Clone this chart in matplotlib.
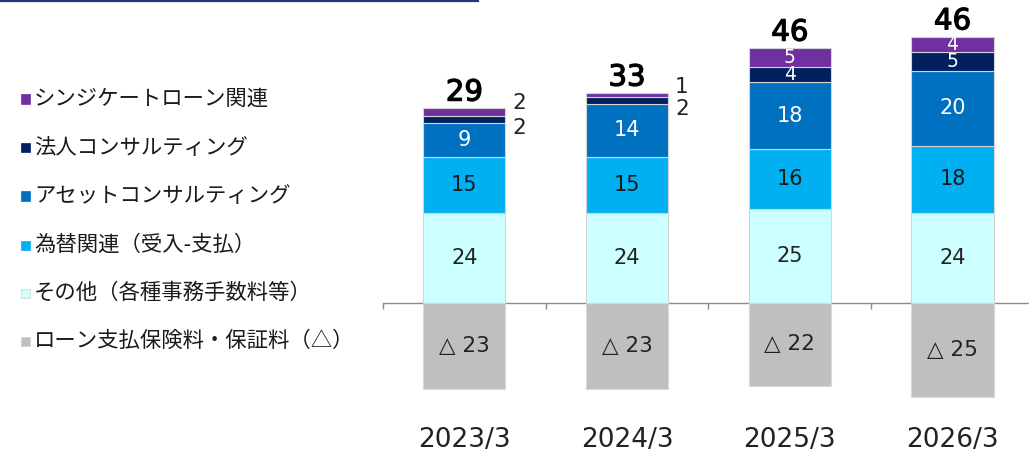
import matplotlib
matplotlib.use("Agg")
import matplotlib.pyplot as plt
from matplotlib.patches import Rectangle
from matplotlib.lines import Line2D
import matplotlib.patheffects as pe
import numpy as np

plt.rcParams['font.family'] = ['DejaVu Sans', 'Noto Sans CJK JP']

# ---- data ----
categories = ['2023/3', '2024/3', '2025/3', '2026/3']
other = [24, 24, 25, 24]          # その他（各種事務手数料等）
fx = [15, 15, 16, 18]             # 為替関連（受入-支払）
asset = [9, 14, 18, 20]           # アセットコンサルティング
corp = [2, 2, 4, 5]               # 法人コンサルティング
synd = [2, 1, 5, 4]               # シンジケートローン関連
loan = [-23, -23, -22, -25]       # ローン支払保険料・保証料（△）

series_names = ['その他（各種事務手数料等）', '為替関連（受入-支払）', 'アセットコンサルティング',
                '法人コンサルティング', 'シンジケートローン関連']
series_vals = [other, fx, asset, corp, synd]
series_colors = ['#CCFFFF', '#00B0F0', '#0070C0', '#002060', '#7030A0']
series_text = ['#222222', '#1a1a1a', 'white', 'white', 'white']
loan_name = 'ローン支払保険料・保証料（△）'
loan_color = '#BFBFBF'

W, H = 1029, 455
fig = plt.figure(figsize=(W / 100, H / 100), dpi=100)

def fx_(px):
    return px / W

def fy_(py):
    return 1 - py / H

# axes: zero line at pixel y=303, 3.75 px per unit
zero_px = 303
ppu = 3.75
ax = fig.add_axes([fx_(383), 0, (W - 383) / W, 1])
ax.set_xlim(-0.5, 3.47)
ax.set_ylim(-(H - zero_px) / ppu, zero_px / ppu)

x = np.arange(len(categories))
bw = 0.505
edge = '#D4D4D4'

bottom = np.zeros(len(categories))
for vals, col, tcol in zip(series_vals, series_colors, series_text):
    v = np.array(vals, dtype=float)
    ax.bar(x, v, bw, bottom=bottom, color=col, edgecolor=edge, linewidth=0.8, zorder=3)
    for i in range(len(x)):
        if v[i] >= 3:
            ax.text(x[i], bottom[i] + v[i] / 2, f'{int(v[i])}', ha='center', va='center',
                    fontsize=15 if v[i] >= 6 else 13.5, color=tcol, zorder=4)
    bottom += v

# outside labels for small top segments
for i in range(len(x)):
    base_corp = other[i] + fx[i] + asset[i]
    if corp[i] < 3:
        ax.annotate(f'{corp[i]}', xy=(x[i] + bw / 2, base_corp + corp[i] / 2),
                    xytext=(5, -6), textcoords='offset points', ha='left', va='center',
                    fontsize=15.5, color='#222222')
    if synd[i] < 3:
        ax.annotate(f'{synd[i]}', xy=(x[i] + bw / 2, base_corp + corp[i] + synd[i] / 2),
                    xytext=(5, 6), textcoords='offset points', ha='left', va='center',
                    fontsize=15.5, color='#222222')

# negative bars
lv = np.array(loan, dtype=float)
ax.bar(x, lv, bw, color=loan_color, edgecolor='#D9D9D9', linewidth=0.8, zorder=3)
for i in range(len(x)):
    ax.text(x[i], lv[i] / 2, f'△ {int(-lv[i])}', ha='center', va='center',
            fontsize=15.5, color='#222222', zorder=4)

# net totals
totals = bottom + lv
for i in range(len(x)):
    ax.annotate(f'{int(totals[i])}', xy=(x[i], bottom[i]), xytext=(0, 1),
                textcoords='offset points', ha='center', va='bottom',
                fontsize=21, color='black',
                path_effects=[pe.withStroke(linewidth=0.9, foreground='black')])

# category labels
for i, c in enumerate(categories):
    ax.text(x[i], -(440 - zero_px) / ppu, c, ha='center', va='center',
            fontsize=19, color='#222222')

# axis styling
for s in ['left', 'right', 'top']:
    ax.spines[s].set_visible(False)
ax.spines['bottom'].set_position(('data', 0))
ax.spines['bottom'].set_color('#8C8C8C')
ax.spines['bottom'].set_linewidth(1.0)
ax.spines['bottom'].set_zorder(1)
ax.set_yticks([])
ax.set_xticks([-0.5, 0.5, 1.5, 2.5])
ax.set_xticklabels([])
ax.tick_params(axis='x', direction='out', length=4, width=1, color='#8C8C8C')
ax.patch.set_alpha(0)

# legend (manual)
leg_names = list(reversed(series_names)) + [loan_name]
leg_colors = list(reversed(series_colors)) + [loan_color]
leg_y = [99, 148, 196, 245, 293, 341]
for name, col, yy in zip(leg_names, leg_colors, leg_y):
    sq = 9
    fig.add_artist(Rectangle((fx_(21), fy_(yy + sq / 2)), sq / W, sq / H,
                             transform=fig.transFigure, facecolor=col,
                             edgecolor='#D0D0D0' if col in ('#CCFFFF', '#BFBFBF') else col,
                             linewidth=0.5))
    fig.text(fx_(34), fy_(yy), name, ha='left', va='center', fontsize=15.4,
             color='#1a1a1a', family=['Noto Sans CJK JP', 'DejaVu Sans'])

# top decorative line
fig.add_artist(Line2D([0, fx_(478)], [fy_(1), fy_(1)], transform=fig.transFigure,
                      color='#1F3A78', linewidth=1.6))

fig.savefig('out.png', dpi=100)
